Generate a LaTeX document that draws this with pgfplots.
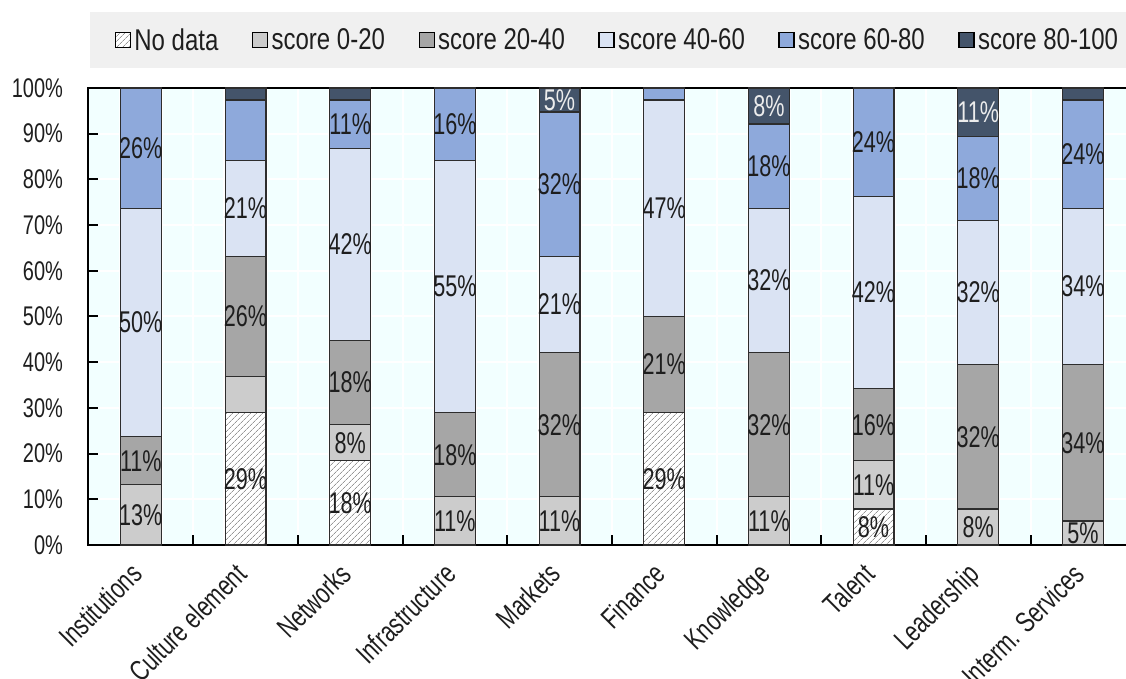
\documentclass[border=0pt]{standalone}
\usepackage{pgfplots}
\pgfplotsset{compat=1.18}
\usepackage{pgfplotstable}
\usetikzlibrary{patterns.meta}
\usepackage{fontspec}
\setmainfont[FakeStretch=0.8]{Liberation Sans}
\newfontfamily\tickfamily[FakeStretch=0.74]{Liberation Sans}
\newfontfamily\barfamily[FakeStretch=0.72]{Liberation Sans}

\definecolor{bgcyan}{RGB}{242,255,255}
\definecolor{legendbg}{RGB}{240,240,240}
\definecolor{sA}{RGB}{204,204,204}
\definecolor{sB}{RGB}{166,166,166}
\definecolor{sC}{RGB}{218,227,243}
\definecolor{sD}{RGB}{142,169,219}
\definecolor{sE}{RGB}{68,84,106}
\definecolor{edge}{RGB}{45,45,45}
\definecolor{txt}{RGB}{30,30,30}
\definecolor{labwhite}{RGB}{236,236,236}
\definecolor{hatch}{RGB}{150,150,150}

% labels printed on the darkest band
\newcommand{\wl}[1]{\textcolor{labwhite}{#1}}

% Share of the 38 cases in each score band, per element (percent),
% with the printed segment label (- = no label)
\pgfplotstableread{
x  y      lab
0  0      -
1  28.95  29\%
2  18.42  18\%
3  0      -
4  0      -
5  28.95  29\%
6  0      -
7  7.89   8\%
8  0      -
9  0      -
}\nodata
\pgfplotstableread{
x  y      lab
0  13.16  13\%
1  7.89   -
2  7.89   8\%
3  10.53  11\%
4  10.53  11\%
5  0      -
6  10.53  11\%
7  10.53  11\%
8  7.89   8\%
9  5.26   5\%
}\bandA
\pgfplotstableread{
x  y      lab
0  10.53  11\%
1  26.32  26\%
2  18.42  18\%
3  18.42  18\%
4  31.58  32\%
5  21.05  21\%
6  31.58  32\%
7  15.79  16\%
8  31.58  32\%
9  34.21  34\%
}\bandB
\pgfplotstableread{
x  y      lab
0  50.00  50\%
1  21.05  21\%
2  42.11  42\%
3  55.26  55\%
4  21.05  21\%
5  47.37  47\%
6  31.58  32\%
7  42.11  42\%
8  31.58  32\%
9  34.21  34\%
}\bandC
\pgfplotstableread{
x  y      lab
0  26.31  26\%
1  13.16  -
2  10.53  11\%
3  15.79  16\%
4  31.58  32\%
5  2.63   -
6  18.42  18\%
7  23.68  24\%
8  18.42  18\%
9  23.68  24\%
}\bandD
\pgfplotstableread{
x  y      lab
0  0      -
1  2.63   -
2  2.63   -
3  0      -
4  5.26   \wl{5\%}
5  0      -
6  7.89   \wl{8\%}
7  0      -
8  10.53  \wl{11\%}
9  2.63   -
}\bandE

\newcommand{\chartfont}{\fontsize{30}{35}\selectfont}
\newcommand{\catfont}{\tickfamily\fontsize{29}{34}\selectfont}
\newcommand{\tickfont}{\tickfamily\fontsize{27}{32}\selectfont}
\newcommand{\barfont}{\barfamily\fontsize{30}{35}\selectfont}
% a dash in the label column means the segment carries no label
\def\nolab{-}
\newcommand{\seglabel}{\ifx\pgfplotspointmeta\nolab\else\pgfplotspointmeta\fi}

\pgfplotsset{
  seg/.style={fill=#1, draw=edge, line width=1.2pt},
}

\begin{document}
\begin{tikzpicture}
% legend band
\fill[legendbg] (1.5pt,477pt) rectangle (1060pt,533pt);

\begin{axis}[
  at={(0,0)}, anchor=south west,
  scale only axis, width=1046.7pt, height=457pt,
  xmin=-0.5, xmax=9.5, ymin=0, ymax=100,
  ybar stacked, bar width=0.39,
  axis background/.style={fill=bgcyan},
  axis line style={black, line width=2pt},
  tick style={black, line width=2pt},
  tick align=inside,
  xtick pos=left, ytick pos=left,
  major tick length=9.5pt,
  % boundaries between elements carry the x ticks and white grid lines
  xtick={0.5,1.5,...,8.5},
  xticklabels={},
  xmajorgrids=true,
  minor xtick={-0.205,0.205,0.795,1.205,1.795,2.205,2.795,3.205,3.795,4.205,
               4.795,5.205,5.795,6.205,6.795,7.205,7.795,8.205,8.795,9.205},
  minor tick length=0pt,
  xminorgrids=true,
  minor grid style={white, line width=1.5pt},
  extra x ticks={0,1,...,9},
  extra x tick labels={Institutions,Culture element,Networks,Infrastructure,Markets,Finance,Knowledge,Talent,Leadership,Interm. Services},
  extra x tick style={major tick length=0pt, xmajorgrids=false,
    xticklabel style={rotate=45, anchor=north east, inner sep=3pt,
      xshift=-17pt, yshift=0pt, font=\catfont}},
  ytick={0,10,...,100},
  ymajorgrids=true,
  grid style={white, line width=2pt},
  /pgf/number format/assume math mode=true,
  yticklabel={\pgfmathprintnumber{\tick}\%},
  yticklabel style={xshift=-22pt, font=\tickfont},
  tick label style={text=txt},
  point meta=explicit symbolic,
  nodes near coords={\seglabel},
  every node near coord/.append style={anchor=center, font=\barfont, text=txt,
    inner sep=0pt},
  legend columns=6,
  legend cell align=left,
  legend style={at={(0.506,1.105)}, anchor=center, draw=none, fill=none,
    font=\chartfont, text=txt, nodes={inner sep=3.5pt},
    /tikz/every even column/.append style={column sep=30pt}},
  legend image code/.code={\draw[#1, draw=black, line width=1.2pt] (0pt,-7.5pt) rectangle (15pt,7.5pt);},
]
\addplot[seg=white, preaction={fill=white},
  pattern={Lines[angle=45, distance=4pt, line width=0.7pt]}, pattern color=hatch]
  table[x=x, y=y, meta=lab] {\nodata};
\addlegendentry{No data}
\addplot[seg=sA] table[x=x, y=y, meta=lab] {\bandA};
\addlegendentry{score 0-20}
\addplot[seg=sB] table[x=x, y=y, meta=lab] {\bandB};
\addlegendentry{score 20-40}
\addplot[seg=sC] table[x=x, y=y, meta=lab] {\bandC};
\addlegendentry{score 40-60}
\addplot[seg=sD] table[x=x, y=y, meta=lab] {\bandD};
\addlegendentry{score 60-80}
\addplot[seg=sE] table[x=x, y=y, meta=lab] {\bandE};
\addlegendentry{score 80-100}
\end{axis}

\pgfresetboundingbox
\useasboundingbox (-88.5pt,-134pt) rectangle (1037.5pt,545pt);
\end{tikzpicture}
\end{document}
